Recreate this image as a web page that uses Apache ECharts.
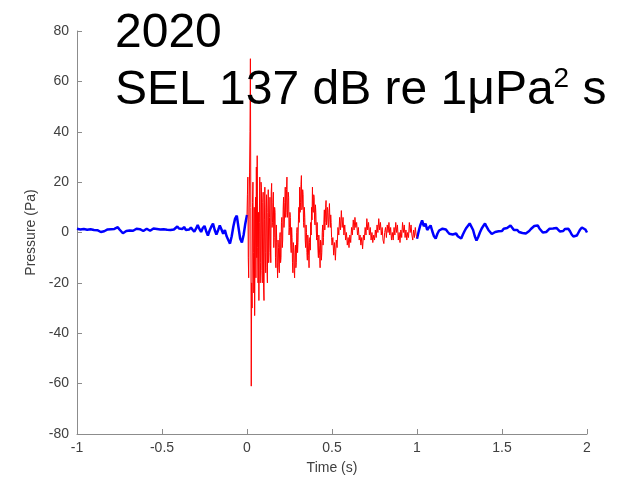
<!DOCTYPE html>
<html>
<head>
<meta charset="utf-8">
<script src="https://cdn.jsdelivr.net/npm/echarts@6/dist/echarts.min.js"></script>
<style>
  html, body { margin: 0; padding: 0; background: #fff; }
  #chart { width: 641px; height: 487px; }
</style>
</head>
<body>
<div id="chart"></div>
<script>
// blue trace before the pulse, t = -1 .. 0, every 0.01 s
var preStart = -1, preStep = 0.01;
var preValues = [
  1.5, 1.8, 1.2, 0.9, 1.4, 1.7, 1.1, 0.8, 1.3, 1.6,
  1.0, 0.6, 0.9, 0.4, 0.2, 0.0, 0.5, 0.9, 1.2, 0.8,
  1.3, 1.7, 1.4, 1.9, 2.1, 1.2, 0.5, -0.3, 0.2, 0.6,
  0.3, 0.8, 1.1, 0.7, 1.2, 1.5, 1.0, 1.3, 0.9, 0.6,
  1.1, 1.5, 1.2, 0.7, 1.0, 1.6, 2.0, 1.4, 0.9, 1.2,
  0.8, 1.3, 1.7, 1.1, 0.6, 1.0, 1.5, 1.2, 1.8, 2.4,
  1.6, 0.9, 1.4, 2.2, 1.0, 0.4, 1.2, 2.0, 1.1, 0.3,
  1.5, 3.0, 1.4, 0.2, 1.8, 2.6, 0.5, -1.2, 0.8, 2.3,
  3.5, 1.0, -0.8, 0.9, 2.8, 1.2, -0.5, 1.0, -1.5, -3.0,
  -4.4, -1.5, 2.5, 5.5, 6.7, 2.0, -2.5, -4.0, -1.0, 3.5,
  7.0
];

// red pulse, first half: t = 0 .. 0.5, every 0.0025 s
var pulseEarlyStart = 0, pulseEarlyStep = 0.0025;
var pulseEarly = [
  7, 15, 22, -10, -18, 5, 24, 40, 69, 10,
  -61, -20, -30, 12, 20, -8, -24, 10, -33, -5,
  14, -18, 26, -10, 30.5, -6, -20, 8, -27, 4,
  22, -20, -12, 20, 18, -15, -20, 12, 16, -22,
  -27, 5, 18, -8, -16, 10, 15, -14, -20, 8,
  17, -12, -8, 6, 14, -5, -12, 16, 19.5, 2,
  4, 12, 16, -6, -2, 10, 8, -10, -14, 3,
  -4, -12, -18, -3, -6, -14, -16, -2, 0, -12,
  -10, 4, 6, -6, -3, 9, 14, 2, 5, 12,
  18, 6, 8, 17, 22, 6, 9, 16, 14, -1,
  2, 8, 6, -5, -8, 2, -2, -12, -16, -4,
  -6, -15, -18, -8, -5, -14, -12, 0, 2, -8,
  -4, 5, 10, 4, 18, 8, 12, 19, 22.6, 9,
  10, 17, 15, 4, 2, 10, 6, -3, -6, 3,
  0, -8, -11, -1, -3, -9, -14, -4, -2, -7,
  4, -1, 10, 5, 18, 9, 8, 15, 14, 5,
  3, 11, 8, 1, -3, 4, -2, -7, -10, -1,
  -5, -9, -14, -3, -4, -11, -8, 0, 3, -5,
  -2, 5, 9, 1, 4, 10, 12.7, 3, 5, 10,
  9, 2, 3, 8, 11.5, 5, 2, 7, 4, -2,
  -5
];

// red pulse, second half: t = 0.505 .. 1, every 0.005 s
var pulseLateStart = 0.505, pulseLateStep = 0.005;
var pulseLate = [
  -2, -9, -4, -11, -3, -6, 2, -1, 6,
  1, 8.7, 2, 6, -1, 3, -3, 0, -5, -2,
  -6, -1, -4, 2, -1, 5, 1, 6, 2, 4,
  -1, 2, -3, -1, -5, -2, -6.5, -1, -3, 2,
  -1, 5.5, 1, 4, -1, 2, -3, 0, -4, -1,
  -3, 1, -2, 3, 0, 5.5, 1, 4, -1, 2,
  -3, -4.4, 0, 2, -2, 3, 0, 4, -1, 2,
  -3, 0, -3, 2, -1, 4, 0, 3, -3, 0,
  -4, 1, -2, 4, 0, 3, -2, 1, -3, 0,
  -2, 4, 0, 3, -1, -3, 1, -2, 2, -1,
  -2
];

// blue trace after the pulse, t = 1 .. 2, every 0.01 s
var postStart = 1, postStep = 0.01;
var postValues = [
  -2.5, 0.5, 3.0, 4.8, 2.5, 3.5, 1.0, 2.0, 2.8, 0.5,
  -1.5, -2.4, -0.5, 0.8, 0.2, 1.5, 2.0, 1.2, 0.3, -0.5,
  0.2, -0.8, -1.2, -0.4, -1.5, -2.0, -2.4, -0.8, 0.6, 1.8,
  2.5, 3.6, 3.2, 1.0, -1.5, -3.2, -1.8, 0.0, 1.5, 2.6,
  3.6, 2.2, 1.0, 0.3, -0.6, -1.0, 0.2, -0.5, 0.5, 1.2,
  0.6, 1.5, 0.8, 1.8, 2.5, 2.8, 1.9, 1.0, 0.3, 1.0,
  0.2, 0.8, -0.2, 0.5, -0.4, -0.2, 0.6, 1.4, 2.0, 2.6,
  3.2, 2.8, 1.6, 0.8, 0.0, -0.4, 0.2, 0.8, 1.5, 2.0,
  1.6, 1.0, 1.8, 1.2, 0.4, 0.0, 0.6, 1.4, 2.0, 1.5,
  0.5, -0.8, -1.6, -2.0, -1.2, 0.0, 1.2, 2.0, 2.4, 1.2,
  0.0
];

var xTicks = { min: -1, max: 2, step: 0.5 };
var yTicks = { min: -80, max: 80, step: 20 };

function toPairs(start, step, values) {
  return values.map(function (v, i) { return [+(start + i * step).toFixed(4), v]; });
}

var axisColor = '#8c8c8c';
var labelColor = '#404040';
var font = 'Arial, "Liberation Sans", sans-serif';

var chart = echarts.init(document.getElementById('chart'));
chart.setOption({
  animation: false,
  backgroundColor: '#fff',
  textStyle: { fontFamily: font },
  title: {
    left: 115,
    top: 5,
    padding: 0,
    text: '{a|2020}\n{a|SEL 137 dB re 1μPa}{s|2}{a| s}',
    textStyle: {
      fontWeight: 'normal',
      rich: {
        a: { fontSize: 48, lineHeight: 57, color: '#000', fontWeight: 'normal', fontFamily: font },
        s: { fontSize: 28, lineHeight: 57, verticalAlign: 'top', padding: [3, 0, 0, 0], color: '#000', fontWeight: 'normal', fontFamily: font }
      }
    }
  },
  grid: { left: 77, right: 54, top: 31, bottom: 53 },
  xAxis: {
    type: 'value',
    min: xTicks.min, max: xTicks.max, interval: xTicks.step,
    name: 'Time (s)',
    nameLocation: 'middle',
    nameGap: 27,
    nameTextStyle: { color: labelColor, fontSize: 14 },
    axisLine: { show: true, onZero: false, lineStyle: { color: axisColor, width: 1 } },
    axisTick: { show: true, inside: true, length: 5, lineStyle: { color: axisColor } },
    axisLabel: { color: labelColor, fontSize: 14, margin: 7 },
    splitLine: { show: false }
  },
  yAxis: {
    type: 'value',
    min: yTicks.min, max: yTicks.max, interval: yTicks.step,
    name: 'Pressure (Pa)',
    nameLocation: 'middle',
    nameGap: 38,
    nameTextStyle: { color: labelColor, fontSize: 14 },
    axisLine: { show: true, onZero: false, lineStyle: { color: axisColor, width: 1 } },
    axisTick: { show: true, inside: true, length: 5, lineStyle: { color: axisColor } },
    axisLabel: { color: labelColor, fontSize: 14, margin: 8 },
    splitLine: { show: false }
  },
  series: [
    {
      type: 'line', name: 'before', showSymbol: false, z: 2,
      data: toPairs(preStart, preStep, preValues),
      lineStyle: { color: '#0000ff', width: 2.5 }
    },
    {
      type: 'line', name: 'after', showSymbol: false, z: 2,
      data: toPairs(postStart, postStep, postValues),
      lineStyle: { color: '#0000ff', width: 2.5 }
    },
    {
      type: 'line', name: 'pulse', showSymbol: false, z: 3,
      data: toPairs(pulseEarlyStart, pulseEarlyStep, pulseEarly)
        .concat(toPairs(pulseLateStart, pulseLateStep, pulseLate)),
      lineStyle: { color: '#ff0000', width: 1 }
    }
  ]
});
</script>
</body>
</html>
